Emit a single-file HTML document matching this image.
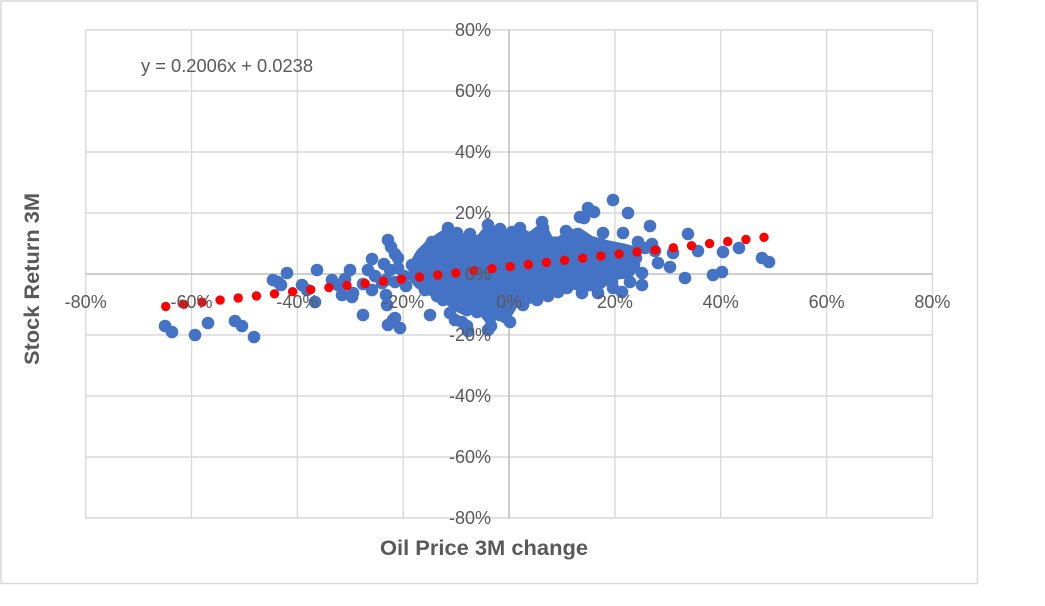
<!DOCTYPE html>
<html>
<head>
<meta charset="utf-8">
<style>
html,body{margin:0;padding:0;background:#fff;}
svg{display:block;}
text{font-family:"Liberation Sans",Arial,sans-serif;fill:#595959;}
</style>
</head>
<body>
<svg width="1045" height="606" viewBox="0 0 1045 606" xmlns="http://www.w3.org/2000/svg">
<rect x="0" y="0" width="1045" height="606" fill="#fff"/>
<rect x="1" y="1" width="976.5" height="582.5" fill="none" stroke="#d9d9d9" stroke-width="1.5"/>

<g stroke="#d9d9d9" stroke-width="1.4" fill="none">
<line x1="85.7" y1="30" x2="85.7" y2="518"/>
<line x1="191.5" y1="30" x2="191.5" y2="518"/>
<line x1="297.4" y1="30" x2="297.4" y2="518"/>
<line x1="403.2" y1="30" x2="403.2" y2="518"/>
<line x1="614.9" y1="30" x2="614.9" y2="518"/>
<line x1="720.7" y1="30" x2="720.7" y2="518"/>
<line x1="826.6" y1="30" x2="826.6" y2="518"/>
<line x1="932.4" y1="30" x2="932.4" y2="518"/>
<line x1="85.7" y1="30" x2="932.4" y2="30"/>
<line x1="85.7" y1="91" x2="932.4" y2="91"/>
<line x1="85.7" y1="152" x2="932.4" y2="152"/>
<line x1="85.7" y1="213" x2="932.4" y2="213"/>
<line x1="85.7" y1="335" x2="932.4" y2="335"/>
<line x1="85.7" y1="396" x2="932.4" y2="396"/>
<line x1="85.7" y1="457" x2="932.4" y2="457"/>
<line x1="85.7" y1="518" x2="932.4" y2="518"/>
</g>
<g stroke="#bfbfbf" stroke-width="1.6">
<line x1="509.1" y1="30" x2="509.1" y2="518"/>
<line x1="85.7" y1="274" x2="932.4" y2="274"/>
</g>

<polygon fill="#4472c4" stroke="#4472c4" stroke-width="12.6" stroke-linejoin="round"
points="416,264 422,254 430,246 440,239 448,234 458,239 468,240 480,242 488,232 500,235 512,238 520,234 530,239 542,230 548,242 560,243 568,237 578,234 590,242 605,246 620,249 632,252 634,265 628,272 612,274 597,285 580,285 566,281 548,289 538,292 523,296 514,300 507,312 500,306 490,318 478,303 467,310 455,304 444,294 432,290 420,283 414,276"/>

<g fill="#4472c4">
<circle cx="165" cy="326" r="6.3"/><circle cx="172" cy="332" r="6.3"/><circle cx="195" cy="335" r="6.3"/>
<circle cx="208" cy="323" r="6.3"/><circle cx="235" cy="321" r="6.3"/><circle cx="242" cy="326" r="6.3"/>
<circle cx="254" cy="337" r="6.3"/>
<circle cx="273" cy="280" r="6.3"/><circle cx="281" cy="285" r="6.3"/><circle cx="287" cy="273" r="6.3"/><circle cx="278" cy="282" r="6.3"/>
<circle cx="302" cy="285" r="6.3"/><circle cx="307" cy="290" r="6.3"/><circle cx="315" cy="302" r="6.3"/><circle cx="317" cy="270" r="6.3"/>
<circle cx="332" cy="280" r="6.3"/><circle cx="338" cy="285" r="6.3"/><circle cx="342" cy="295" r="6.3"/><circle cx="352" cy="297" r="6.3"/>
<circle cx="350" cy="270" r="6.3"/><circle cx="345" cy="279" r="6.3"/><circle cx="353" cy="293" r="6.3"/>
<circle cx="363" cy="315" r="6.3"/><circle cx="372" cy="259" r="6.3"/><circle cx="368" cy="270" r="6.3"/><circle cx="375" cy="276" r="6.3"/>
<circle cx="382" cy="283" r="6.3"/><circle cx="372" cy="290" r="6.3"/><circle cx="386" cy="295" r="6.3"/><circle cx="387" cy="305" r="6.3"/>
<circle cx="363" cy="284" r="6.3"/>
<circle cx="388" cy="240" r="6.3"/><circle cx="391" cy="247" r="6.3"/><circle cx="395" cy="254" r="6.3"/><circle cx="398" cy="258" r="6.3"/>
<circle cx="384" cy="264" r="6.3"/><circle cx="390" cy="270" r="6.3"/><circle cx="398" cy="268" r="6.3"/><circle cx="386" cy="280" r="6.3"/>
<circle cx="395" cy="282" r="6.3"/><circle cx="404" cy="276" r="6.3"/><circle cx="406" cy="286" r="6.3"/><circle cx="412" cy="265" r="6.3"/>
<circle cx="420" cy="257" r="6.3"/>
<circle cx="393" cy="320" r="6.3"/><circle cx="400" cy="328" r="6.3"/><circle cx="388" cy="325" r="6.3"/><circle cx="395" cy="318" r="6.3"/>
<circle cx="430" cy="315" r="6.3"/>
<circle cx="443" cy="300" r="6.3"/><circle cx="450" cy="313" r="6.3"/><circle cx="455" cy="320" r="6.3"/><circle cx="462" cy="322" r="6.3"/>
<circle cx="467" cy="326" r="6.3"/><circle cx="468" cy="331" r="6.3"/><circle cx="477" cy="312" r="6.3"/><circle cx="488" cy="330" r="6.3"/>
<circle cx="491" cy="326" r="6.3"/><circle cx="500" cy="315" r="6.3"/><circle cx="505" cy="317" r="6.3"/><circle cx="510" cy="322" r="6.3"/>
<circle cx="523" cy="305" r="6.3"/><circle cx="537" cy="300" r="6.3"/><circle cx="548" cy="296" r="6.3"/>
<circle cx="448" cy="228" r="6.3"/><circle cx="457" cy="233" r="6.3"/><circle cx="488" cy="225" r="6.3"/><circle cx="500" cy="229" r="6.3"/>
<circle cx="520" cy="228" r="6.3"/><circle cx="542" cy="222" r="6.3"/><circle cx="543" cy="228" r="6.3"/><circle cx="580" cy="217" r="6.3"/>
<circle cx="566" cy="231" r="6.3"/><circle cx="470" cy="234" r="6.3"/><circle cx="512" cy="232" r="6.3"/><circle cx="432" cy="242" r="6.3"/>
<circle cx="425" cy="290" r="6.3"/><circle cx="437" cy="296" r="6.3"/><circle cx="528" cy="298" r="6.3"/><circle cx="558" cy="292" r="6.3"/>
<circle cx="613" cy="200" r="6.3"/><circle cx="588" cy="208" r="6.3"/><circle cx="594" cy="212" r="6.3"/><circle cx="584" cy="218" r="6.3"/>
<circle cx="628" cy="213" r="6.3"/><circle cx="650" cy="226" r="6.3"/><circle cx="623" cy="233" r="6.3"/><circle cx="603" cy="233" r="6.3"/>
<circle cx="688" cy="234" r="6.3"/><circle cx="638" cy="242" r="6.3"/><circle cx="652" cy="244" r="6.3"/><circle cx="645" cy="248" r="6.3"/>
<circle cx="655" cy="251" r="6.3"/><circle cx="673" cy="253" r="6.3"/><circle cx="698" cy="251" r="6.3"/><circle cx="723" cy="252" r="6.3"/>
<circle cx="739" cy="248" r="6.3"/><circle cx="658" cy="263" r="6.3"/><circle cx="670" cy="267" r="6.3"/><circle cx="685" cy="278" r="6.3"/>
<circle cx="713" cy="275" r="6.3"/><circle cx="722" cy="272" r="6.3"/><circle cx="762" cy="258" r="6.3"/><circle cx="769" cy="262" r="6.3"/>
<circle cx="642" cy="273" r="6.3"/><circle cx="630" cy="282" r="6.3"/><circle cx="642" cy="285" r="6.3"/><circle cx="612" cy="282" r="6.3"/>
<circle cx="613" cy="288" r="6.3"/><circle cx="622" cy="292" r="6.3"/><circle cx="598" cy="293" r="6.3"/><circle cx="582" cy="293" r="6.3"/>
<circle cx="567" cy="288" r="6.3"/><circle cx="636" cy="258" r="6.3"/><circle cx="630" cy="266" r="6.3"/>
</g>

<g fill="#ff0000">
<circle cx="165.7" cy="306.4" r="4.7"/><circle cx="183.8" cy="304.3" r="4.7"/><circle cx="202.0" cy="302.2" r="4.7"/>
<circle cx="220.1" cy="300.1" r="4.7"/><circle cx="238.2" cy="298.0" r="4.7"/><circle cx="256.4" cy="295.9" r="4.7"/>
<circle cx="274.5" cy="293.8" r="4.7"/><circle cx="292.6" cy="291.7" r="4.7"/><circle cx="310.7" cy="289.6" r="4.7"/>
<circle cx="328.9" cy="287.6" r="4.7"/><circle cx="347.0" cy="285.5" r="4.7"/><circle cx="365.1" cy="283.4" r="4.7"/>
<circle cx="383.3" cy="281.3" r="4.7"/><circle cx="401.4" cy="279.2" r="4.7"/><circle cx="419.5" cy="277.1" r="4.7"/>
<circle cx="437.7" cy="275.0" r="4.7"/><circle cx="455.8" cy="272.9" r="4.7"/><circle cx="473.9" cy="270.8" r="4.7"/>
<circle cx="492.0" cy="268.7" r="4.7"/><circle cx="510.2" cy="266.6" r="4.7"/><circle cx="528.3" cy="264.5" r="4.7"/>
<circle cx="546.4" cy="262.4" r="4.7"/><circle cx="564.6" cy="260.3" r="4.7"/><circle cx="582.7" cy="258.2" r="4.7"/>
<circle cx="600.8" cy="256.1" r="4.7"/><circle cx="619.0" cy="254.1" r="4.7"/><circle cx="637.1" cy="252.0" r="4.7"/>
<circle cx="655.2" cy="249.9" r="4.7"/><circle cx="673.3" cy="247.8" r="4.7"/><circle cx="691.5" cy="245.7" r="4.7"/>
<circle cx="709.6" cy="243.6" r="4.7"/><circle cx="727.7" cy="241.5" r="4.7"/><circle cx="745.9" cy="239.4" r="4.7"/>
<circle cx="764.0" cy="237.3" r="4.7"/>
</g>

<g font-size="18" text-anchor="end">
<text x="491" y="36">80%</text>
<text x="491" y="97">60%</text>
<text x="491" y="158">40%</text>
<text x="491" y="219">20%</text>
<text x="491" y="280">0%</text>
<text x="491" y="341">-20%</text>
<text x="491" y="402">-40%</text>
<text x="491" y="463">-60%</text>
<text x="491" y="524">-80%</text>
</g>
<g font-size="18" text-anchor="middle">
<text x="85.7" y="308">-80%</text>
<text x="191.5" y="308">-60%</text>
<text x="297.4" y="308">-40%</text>
<text x="403.2" y="308">-20%</text>
<text x="509.1" y="308">0%</text>
<text x="614.9" y="308">20%</text>
<text x="720.7" y="308">40%</text>
<text x="826.6" y="308">60%</text>
<text x="932.4" y="308">80%</text>
</g>

<text x="141" y="72" font-size="18" textLength="172" lengthAdjust="spacingAndGlyphs">y = 0.2006x + 0.0238</text>

<text x="484" y="555" font-size="21" font-weight="bold" text-anchor="middle" textLength="208" lengthAdjust="spacingAndGlyphs">Oil Price 3M change</text>
<text transform="translate(39,279) rotate(-90)" font-size="21" font-weight="bold" text-anchor="middle" textLength="172" lengthAdjust="spacingAndGlyphs">Stock Return 3M</text>
</svg>
</body>
</html>
